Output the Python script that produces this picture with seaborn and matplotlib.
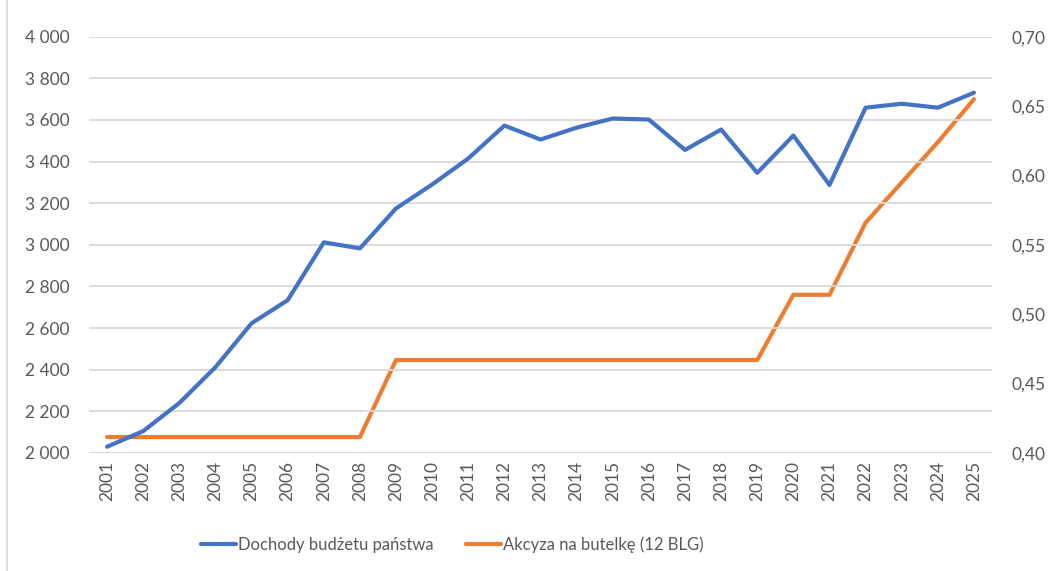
import matplotlib
matplotlib.use("Agg")
import matplotlib.pyplot as plt
import matplotlib.ticker as mticker
import seaborn as sns
import pandas as pd

# dane
years = list(range(2001, 2026))
dochody = [2030, 2105, 2240, 2412, 2623, 2734, 3012, 2983, 3175, 3290,
           3415, 3573, 3506, 3563, 3607, 3602, 3456, 3554, 3346, 3525,
           3288, 3659, 3678, 3659, 3731]
akcyza = [0.4115, 0.4115, 0.4115, 0.4115, 0.4115, 0.4115, 0.4115, 0.4115,
          0.467, 0.467, 0.467, 0.467, 0.467, 0.467, 0.467, 0.467, 0.467,
          0.467, 0.467, 0.514, 0.514, 0.566, 0.595, 0.624, 0.655]

df = pd.DataFrame({"rok": years, "dochody": dochody, "akcyza": akcyza})

sns.set_style("white")
plt.rcParams["font.family"] = ["Lato", "DejaVu Sans"]
szary = "#595959"

fig = plt.figure(figsize=(10.52, 5.71), dpi=100)
ax = fig.add_axes([0.0846, 0.2067, 0.8584, 0.729])
ax2 = ax.twinx()

sns.lineplot(data=df, x="rok", y="dochody", ax=ax, color="#4472C4", lw=3,
             label="Dochody budżetu państwa", legend=False)
sns.lineplot(data=df, x="rok", y="akcyza", ax=ax2, color="#ED7D31", lw=3,
             label="Akcyza na butelkę (12 BLG)", legend=False)

ax.set_xlim(2000.5, 2025.5)
ax.set_ylim(2000, 4000)
ax2.set_ylim(0.40, 0.70)
ax.set_yticks(range(2000, 4001, 200))
ax2.set_yticks([0.40, 0.45, 0.50, 0.55, 0.60, 0.65, 0.70])
ax.yaxis.set_major_formatter(mticker.FuncFormatter(lambda v, p: f"{int(v):,}".replace(",", " ")))
ax2.yaxis.set_major_formatter(mticker.FuncFormatter(lambda v, p: f"{v:.2f}".replace(".", ",")))
ax.set_xticks(years)
ax.set_xticklabels([str(y) for y in years], rotation=90)

ax.grid(axis="y", color="#D9D9D9", lw=1.3)
ax.set_zorder(ax2.get_zorder() + 1)
ax.patch.set_visible(False)
for a in (ax, ax2):
    for s in a.spines.values():
        s.set_visible(False)
    a.set_xlabel("")
    a.set_ylabel("")
    a.tick_params(length=0, labelsize=12.5, colors=szary)
ax.tick_params(axis="y", pad=14)
ax2.tick_params(axis="y", pad=14)
ax.tick_params(axis="x", pad=6)

h1, l1 = ax.get_legend_handles_labels()
h2, l2 = ax2.get_legend_handles_labels()
fig.legend(h1 + h2, l1 + l2, loc="center", bbox_to_anchor=(0.43, 0.046),
           ncol=2, frameon=False, fontsize=12, labelcolor=szary,
           handlelength=2.1, handletextpad=0.15, columnspacing=1.9)

fig.add_artist(plt.Line2D([0.0067, 0.0067], [0, 1], color="#D9D9D9", lw=1.2,
                          transform=fig.transFigure))

fig.savefig("out.png", dpi=100, facecolor="white")
